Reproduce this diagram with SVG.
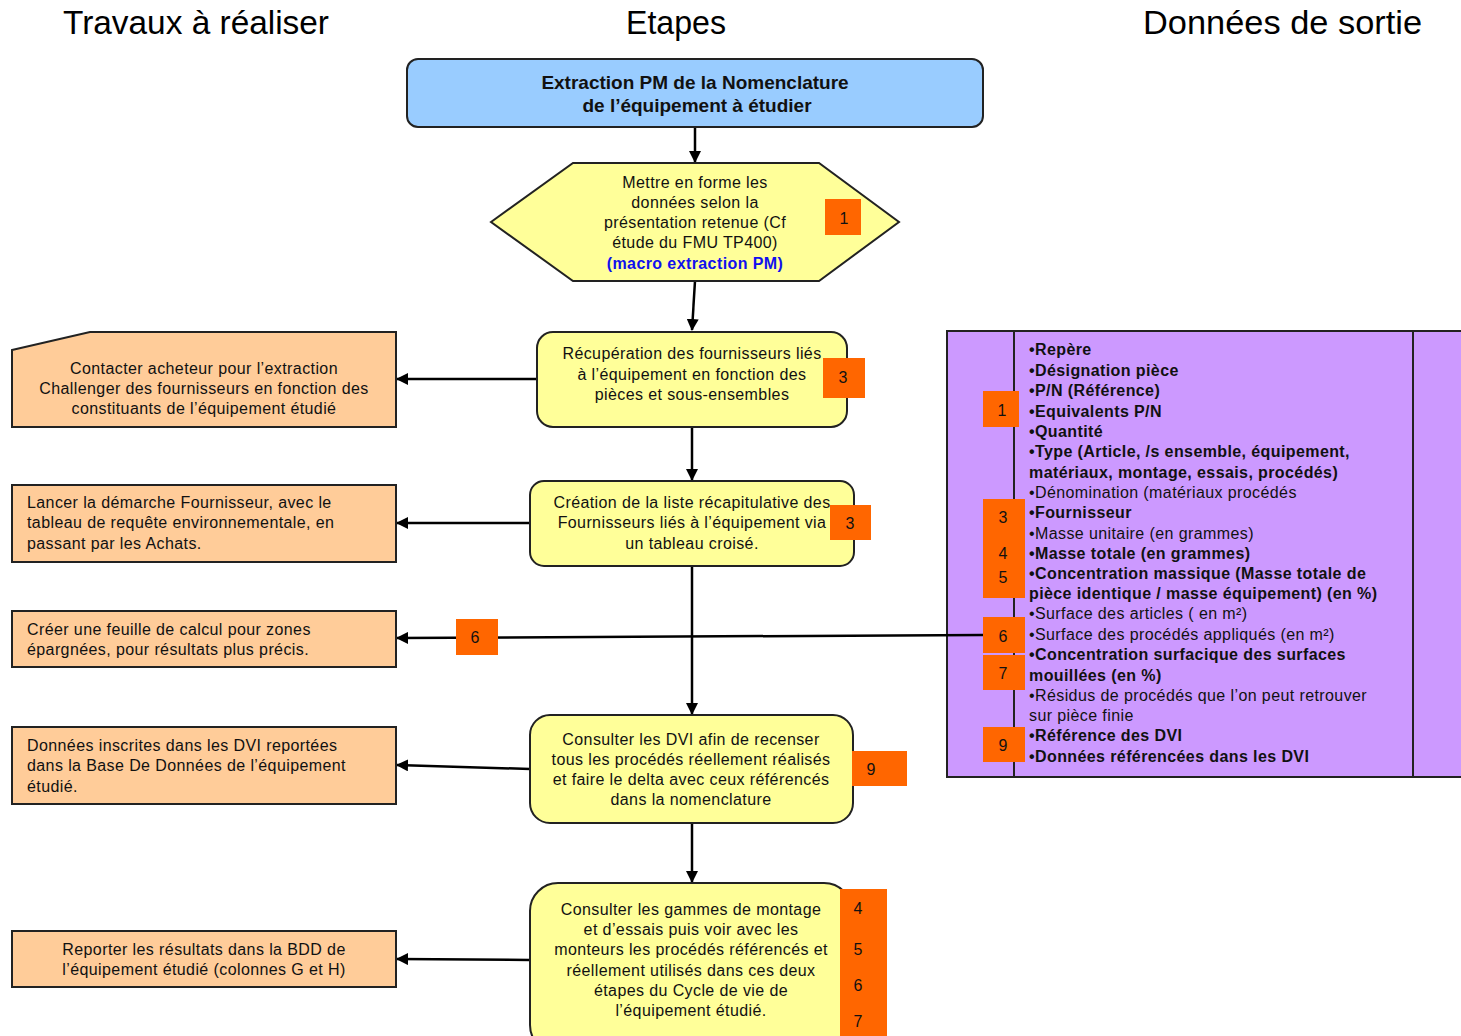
<svg xmlns="http://www.w3.org/2000/svg" width="1461" height="1036" viewBox="0 0 1461 1036">
<defs>
<marker id="ah" markerWidth="12" markerHeight="12" refX="11" refY="6" orient="auto" markerUnits="userSpaceOnUse">
<path d="M0,0 L12,6 L0,12 Z" fill="#000"/>
</marker>
<style>
.hdr{font-family:"Liberation Sans",Arial,sans-serif;font-size:34px;fill:#000}
.t{font-family:"Liberation Sans",Arial,sans-serif;font-size:16px;letter-spacing:0.4px;fill:#111}
.c{text-anchor:middle}
.b{font-weight:bold}
.ttl{font-size:19px;letter-spacing:0px}
.pl{font-family:"Liberation Sans",Arial,sans-serif;font-size:16px;letter-spacing:0.4px;fill:#111}
.box{stroke:#222;stroke-width:2}
.step{fill:#ffff99}
.task{fill:#ffcc99}
.badge{fill:#ff6600}
.bn{font-family:"Liberation Sans",Arial,sans-serif;font-size:16px;fill:#111;text-anchor:middle}
.ln{stroke:#000;stroke-width:2.5;fill:none}
</style>
</defs>
<rect width="1461" height="1036" fill="#fff"/>

<g id="headers">
<text class="hdr" x="63" y="34" textLength="266" lengthAdjust="spacingAndGlyphs">Travaux à réaliser</text>
<text class="hdr" x="626" y="34" textLength="100" lengthAdjust="spacingAndGlyphs">Etapes</text>
<text class="hdr" x="1143" y="34" textLength="279" lengthAdjust="spacingAndGlyphs">Données de sortie</text>
</g>

<g id="output-panel">
<rect x="947" y="331" width="530" height="446" fill="#cc99ff" class="box"/>
<line x1="1014" y1="331" x2="1014" y2="777" stroke="#222" stroke-width="2"/>
<line x1="1413" y1="331" x2="1413" y2="777" stroke="#222" stroke-width="2"/>
<rect class="badge" x="983" y="391" width="36" height="36"/>
<text class="bn" x="1002" y="416">1</text>
<rect class="badge" x="983" y="499" width="42" height="99"/>
<text class="bn" x="1003" y="523">3</text>
<text class="bn" x="1003" y="559">4</text>
<text class="bn" x="1003" y="583">5</text>
<rect class="badge" x="983" y="617" width="42" height="36"/>
<text class="bn" x="1003" y="642">6</text>
<rect class="badge" x="983" y="655" width="42" height="35"/>
<text class="bn" x="1003" y="679">7</text>
<rect class="badge" x="983" y="727" width="42" height="35"/>
<text class="bn" x="1003" y="751">9</text>
<text class="pl b" x="1029" y="355">•Repère</text>
<text class="pl b" x="1029" y="376">•Désignation  pièce</text>
<text class="pl b" x="1029" y="396">•P/N (Référence)</text>
<text class="pl b" x="1029" y="417">•Equivalents P/N</text>
<text class="pl b" x="1029" y="437">•Quantité</text>
<text class="pl b" x="1029" y="457">•Type (Article, /s ensemble, équipement,</text>
<text class="pl b" x="1029" y="478">matériaux, montage, essais, procédés)</text>
<text class="pl" x="1029" y="498">•Dénomination (matériaux procédés</text>
<text class="pl b" x="1029" y="518">•Fournisseur</text>
<text class="pl" x="1029" y="539">•Masse unitaire (en grammes)</text>
<text class="pl b" x="1029" y="559">•Masse totale (en grammes)</text>
<text class="pl b" x="1029" y="579">•Concentration massique (Masse totale de</text>
<text class="pl b" x="1029" y="599">pièce identique / masse équipement) (en %)</text>
<text class="pl" x="1029" y="619">•Surface des articles ( en m²)</text>
<text class="pl" x="1029" y="640">•Surface des procédés appliqués (en m²)</text>
<text class="pl b" x="1029" y="660">•Concentration surfacique des surfaces</text>
<text class="pl b" x="1029" y="681">mouillées (en %)</text>
<text class="pl" x="1029" y="701">•Résidus de procédés que l’on peut retrouver</text>
<text class="pl" x="1029" y="721">sur pièce finie</text>
<text class="pl b" x="1029" y="741">•Référence des DVI</text>
<text class="pl b" x="1029" y="762">•Données référencées dans les DVI</text>
</g>

<g id="connectors">
<line class="ln" x1="695" y1="127" x2="695" y2="162" marker-end="url(#ah)"/>
<line class="ln" x1="695" y1="281" x2="692" y2="330" marker-end="url(#ah)"/>
<line class="ln" x1="537" y1="379" x2="397" y2="379" marker-end="url(#ah)"/>
<line class="ln" x1="692" y1="427" x2="692" y2="480" marker-end="url(#ah)"/>
<line class="ln" x1="530" y1="523" x2="397" y2="523" marker-end="url(#ah)"/>
<line class="ln" x1="692" y1="566" x2="692" y2="714" marker-end="url(#ah)"/>
<line class="ln" x1="983" y1="635" x2="397" y2="638" marker-end="url(#ah)"/>
<line class="ln" x1="530" y1="769" x2="397" y2="765" marker-end="url(#ah)"/>
<line class="ln" x1="692" y1="823" x2="692" y2="882" marker-end="url(#ah)"/>
<line class="ln" x1="530" y1="960" x2="397" y2="959" marker-end="url(#ah)"/>
</g>

<g id="n-extraction">
<rect x="407" y="59" width="576" height="68" rx="11" fill="#99ccff" class="box"/>
<text class="t c b ttl" x="695" y="89">Extraction PM de la Nomenclature</text>
<text class="t c b ttl" x="697" y="112">de l’équipement à étudier</text>
</g>

<g id="n-mettre">
<polygon points="491,222 573,163 819,163 899,222 819,281 573,281" fill="#ffff99" class="box"/>
<text class="t c" x="695" y="188">Mettre en forme les</text>
<text class="t c" x="695" y="208">données selon la</text>
<text class="t c" x="695" y="228">présentation retenue (Cf</text>
<text class="t c" x="695" y="248">étude du FMU TP400)</text>
<text class="t c b" x="695" y="269" style="fill:#1010ee">(macro extraction PM)</text>
<rect class="badge" x="825" y="199" width="36" height="36"/>
<text class="bn" x="844" y="224">1</text>
</g>

<g id="n-recup">
<rect x="537" y="332" width="310" height="95" rx="16" class="box step"/>
<text class="t c" x="692" y="359">Récupération des fournisseurs liés</text>
<text class="t c" x="692" y="380">à l’équipement en fonction des</text>
<text class="t c" x="692" y="400">pièces et sous-ensembles</text>
<rect class="badge" x="823" y="358" width="42" height="40"/>
<text class="bn" x="843" y="383">3</text>
</g>

<g id="n-creation">
<rect x="530" y="481" width="324" height="85" rx="14" class="box step"/>
<text class="t c" x="692" y="508">Création de la liste récapitulative des</text>
<text class="t c" x="692" y="528">Fournisseurs liés à l’équipement via</text>
<text class="t c" x="692" y="549">un tableau croisé.</text>
<rect class="badge" x="830" y="505" width="41" height="35"/>
<text class="bn" x="850" y="529">3</text>
</g>

<g id="n-dvi">
<rect x="530" y="715" width="323" height="108" rx="20" class="box step"/>
<text class="t c" x="691" y="745">Consulter les DVI afin de recenser</text>
<text class="t c" x="691" y="765">tous les procédés réellement réalisés</text>
<text class="t c" x="691" y="785">et faire le delta avec ceux référencés</text>
<text class="t c" x="691" y="805">dans la nomenclature</text>
<rect class="badge" x="852" y="751" width="55" height="35"/>
<text class="bn" x="871" y="775">9</text>
</g>

<g id="n-gammes">
<rect x="530" y="883" width="322" height="170" rx="28" class="box step"/>
<text class="t c" x="691" y="915">Consulter les gammes de montage</text>
<text class="t c" x="691" y="935">et d’essais puis voir avec les</text>
<text class="t c" x="691" y="955">monteurs les procédés référencés et</text>
<text class="t c" x="691" y="976">réellement utilisés dans ces deux</text>
<text class="t c" x="691" y="996">étapes du Cycle de vie de</text>
<text class="t c" x="691" y="1016">l’équipement étudié.</text>
<rect class="badge" x="840" y="889" width="47" height="147"/>
<text class="bn" x="858" y="914">4</text>
<text class="bn" x="858" y="955">5</text>
<text class="bn" x="858" y="991">6</text>
<text class="bn" x="858" y="1027">7</text>
</g>

<g id="n-contacter">
<polygon points="12,350 90,332 396,332 396,427 12,427" class="box task"/>
<text class="t c" x="204" y="374">Contacter acheteur pour l’extraction</text>
<text class="t c" x="204" y="394">Challenger des fournisseurs en fonction des</text>
<text class="t c" x="204" y="414">constituants de l’équipement étudié</text>
</g>

<g id="n-lancer">
<rect x="12" y="485" width="384" height="77" class="box task"/>
<text class="t" x="27" y="508">Lancer la démarche Fournisseur, avec le</text>
<text class="t" x="27" y="528">tableau de requête environnementale, en</text>
<text class="t" x="27" y="549">passant par les Achats.</text>
</g>

<g id="n-creer">
<rect x="12" y="611" width="384" height="56" class="box task"/>
<text class="t" x="27" y="635">Créer une feuille de calcul pour zones</text>
<text class="t" x="27" y="655">épargnées, pour résultats plus précis.</text>
</g>

<g id="badge-6">
<rect class="badge" x="456" y="619" width="42" height="36"/>
<text class="bn" x="475" y="643">6</text>
</g>

<g id="n-donnees">
<rect x="12" y="727" width="384" height="77" class="box task"/>
<text class="t" x="27" y="751">Données inscrites dans les DVI reportées</text>
<text class="t" x="27" y="771">dans la Base De Données de l’équipement</text>
<text class="t" x="27" y="792">étudié.</text>
</g>

<g id="n-reporter">
<rect x="12" y="931" width="384" height="56" class="box task"/>
<text class="t c" x="204" y="955">Reporter les résultats dans la BDD de</text>
<text class="t c" x="204" y="975">l’équipement étudié (colonnes G et H)</text>
</g>
</svg>
